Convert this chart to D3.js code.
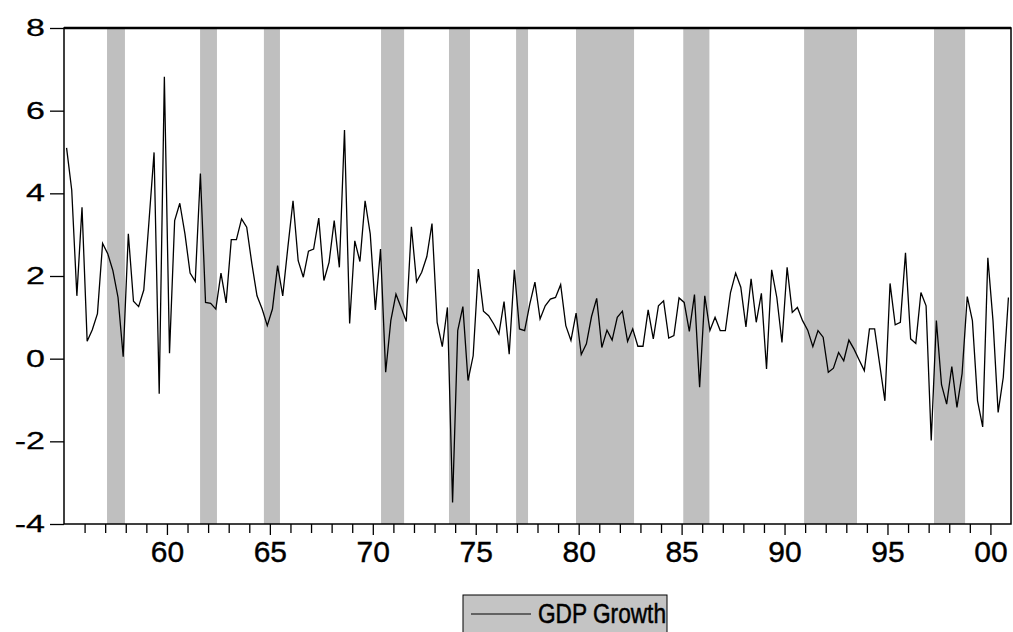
<!DOCTYPE html>
<html>
<head>
<meta charset="utf-8">
<script src="https://cdn.jsdelivr.net/npm/d3@7"></script>
<style>
  body { margin: 0; background: #fff; }
  text { font-family: "Liberation Sans", Arial, sans-serif; fill: #000; }
</style>
</head>
<body>
<div id="chart"></div>
<script>
// quarterly GDP growth, 1955Q1 .. 2000Q4
let startYear = 1955, endYear = 2001;
let gdpGrowth = [
  5.1, 4.08, 1.52, 3.66, 0.42, 0.7, 1.09, 2.79, 2.54, 2.13,
  1.48, 0.05, 3.02, 1.39, 1.26, 1.66, 3.3, 4.99, -0.85, 6.82,
  0.13, 3.34, 3.76, 3.02, 2.07, 1.87, 4.48, 1.36, 1.34, 1.2,
  2.07, 1.35, 2.88, 2.88, 3.38, 3.18, 2.3, 1.52, 1.2, 0.8,
  1.2, 2.25, 1.52, 2.7, 3.82, 2.37, 1.97, 2.6, 2.65, 3.4,
  1.89, 2.33, 3.34, 2.21, 5.53, 0.85, 2.85, 2.35, 3.82, 3.02,
  1.18, 2.65, -0.33, 0.92, 1.56, 1.24, 0.9, 3.19, 1.86, 2.09,
  2.47, 3.27, 0.88, 0.29, 1.24, -3.48, 0.68, 1.26, -0.53, 0.07,
  2.17, 1.15, 1.04, 0.84, 0.6, 1.38, 0.11, 2.15, 0.72, 0.68,
  1.32, 1.85, 0.96, 1.28, 1.44, 1.48, 1.79, 0.8, 0.44, 1.1,
  0.1, 0.36, 1.02, 1.46, 0.27, 0.69, 0.45, 1.0, 1.15, 0.42,
  0.72, 0.3, 0.3, 1.18, 0.48, 1.28, 1.4, 0.5, 0.56, 1.47,
  1.36, 0.66, 1.55, -0.69, 1.52, 0.68, 1.0, 0.68, 0.68, 1.6,
  2.07, 1.73, 0.77, 1.93, 0.88, 1.58, -0.25, 2.15, 1.48, 0.39,
  2.21, 1.12, 1.24, 0.92, 0.69, 0.29, 0.68, 0.52, -0.33, -0.23,
  0.15, -0.05, 0.45, 0.23, -0.03, -0.29, 0.72, 0.72, -0.15, -1.02,
  1.82, 0.82, 0.88, 2.56, 0.48, 0.37, 1.6, 1.28, -1.98, 0.92,
  -0.63, -1.1, -0.19, -1.18, -0.36, 1.5, 0.92, -1.02, -1.65, 2.44,
  0.92, -1.3, -0.45, 1.48
];

// shaded periods (decimal years)
let shadeStart = [1957.09, 1961.61, 1964.71, 1970.40, 1973.70, 1976.96, 1979.87, 1985.08, 1990.95, 1997.26];
let shadeEnd   = [1957.96, 1962.43, 1965.49, 1971.52, 1974.72, 1977.54, 1982.69, 1986.35, 1993.52, 1998.77];

let yTicks = [-4, -2, 0, 2, 4, 6, 8];
let majorYears = [1960, 1965, 1970, 1975, 1980, 1985, 1990, 1995, 2000];
let majorLabels = ["60", "65", "70", "75", "80", "85", "90", "95", "00"];
let seriesName = "GDP Growth";

let margin = {top: 28, right: 2, bottom: 108, left: 64},
    width = 1013 - margin.left - margin.right,
    height = 632 - margin.top - margin.bottom;

let svg = d3.select("#chart")
    .append("svg")
    .attr("width", 1013)
    .attr("height", 632);

let canvas = svg.append("g")
    .attr("transform", "translate(" + margin.left + "," + margin.top + ")");

let x = d3.scaleLinear()
    .domain([startYear, endYear])
    .range([0, width]);

let y = d3.scaleLinear()
    .domain([-4, 8])
    .range([height, 0]);

let data = gdpGrowth.map(function(v, i) {
    return {t: startYear + (i + 0.5) / 4, value: v};
});

// shading
canvas.selectAll(".shade")
    .data(shadeStart)
    .enter().append("rect")
    .attr("class", "shade")
    .attr("x", function(d) { return x(d); })
    .attr("width", function(d, i) { return x(shadeEnd[i]) - x(d); })
    .attr("y", 0)
    .attr("height", height)
    .style("fill", "#bfbfbf");

// axes
let yAxis = d3.axisLeft(y)
    .tickValues(yTicks)
    .tickSize(14)
    .tickPadding(5)
    .tickFormat(function(d) { return String(d); });

let minorYears = d3.range(startYear + 1, endYear).filter(function(d) { return majorYears.indexOf(d) < 0; });

let xMinor = d3.axisBottom(x)
    .tickValues(minorYears)
    .tickSize(9)
    .tickFormat("");

let xMajor = d3.axisBottom(x)
    .tickValues(majorYears)
    .tickSize(11)
    .tickPadding(6)
    .tickFormat(function(d, i) { return majorLabels[i]; });

let gY = canvas.append("g").call(yAxis);
let gXMinor = canvas.append("g").attr("transform", "translate(0," + height + ")").call(xMinor);
let gXMajor = canvas.append("g").attr("transform", "translate(0," + height + ")").call(xMajor);

[gY, gXMinor, gXMajor].forEach(function(g) {
    g.select(".domain").remove();
    g.selectAll("line").style("stroke", "#000").style("stroke-width", 1.3);
    g.selectAll("text")
        .style("font-family", "'Liberation Sans', Arial, sans-serif")
        .style("fill", "#000")
        .style("stroke", "#000")
        .style("stroke-width", 0.4);
});

// y labels are drawn wide and flat, as in the source
gY.selectAll("text")
    .style("font-size", "34px")
    .attr("transform", "scale(1,0.7)");

gXMajor.selectAll("text")
    .style("font-size", "30px");

// the series
let line = d3.line()
    .x(function(d) { return x(d.t); })
    .y(function(d) { return y(d.value); });

canvas.append("path")
    .datum(data)
    .attr("d", line)
    .style("fill", "none")
    .style("stroke", "#000")
    .style("stroke-width", 1.3)
    .style("stroke-linejoin", "miter");

// frame
canvas.append("rect")
    .attr("width", width)
    .attr("height", height)
    .style("fill", "none")
    .style("stroke", "#000")
    .style("stroke-width", 1.5);

canvas.append("line")
    .attr("x1", 0).attr("x2", width)
    .attr("y1", 0).attr("y2", 0)
    .style("stroke", "#000")
    .style("stroke-width", 2.5);

// legend
let legend = svg.append("g")
    .attr("transform", "translate(463,595)");

legend.append("rect")
    .attr("width", 204)
    .attr("height", 45)
    .style("fill", "#c4c4c4")
    .style("stroke", "#000")
    .style("stroke-width", 1);

legend.append("line")
    .attr("x1", 8).attr("x2", 68)
    .attr("y1", 19).attr("y2", 19)
    .style("stroke", "#000")
    .style("stroke-width", 1.2);

legend.append("text")
    .attr("x", 75)
    .attr("y", 28)
    .attr("textLength", 128)
    .attr("lengthAdjust", "spacingAndGlyphs")
    .style("font-size", "27px")
    .style("stroke", "#000")
    .style("stroke-width", 0.5)
    .text(seriesName);
</script>
</body>
</html>
